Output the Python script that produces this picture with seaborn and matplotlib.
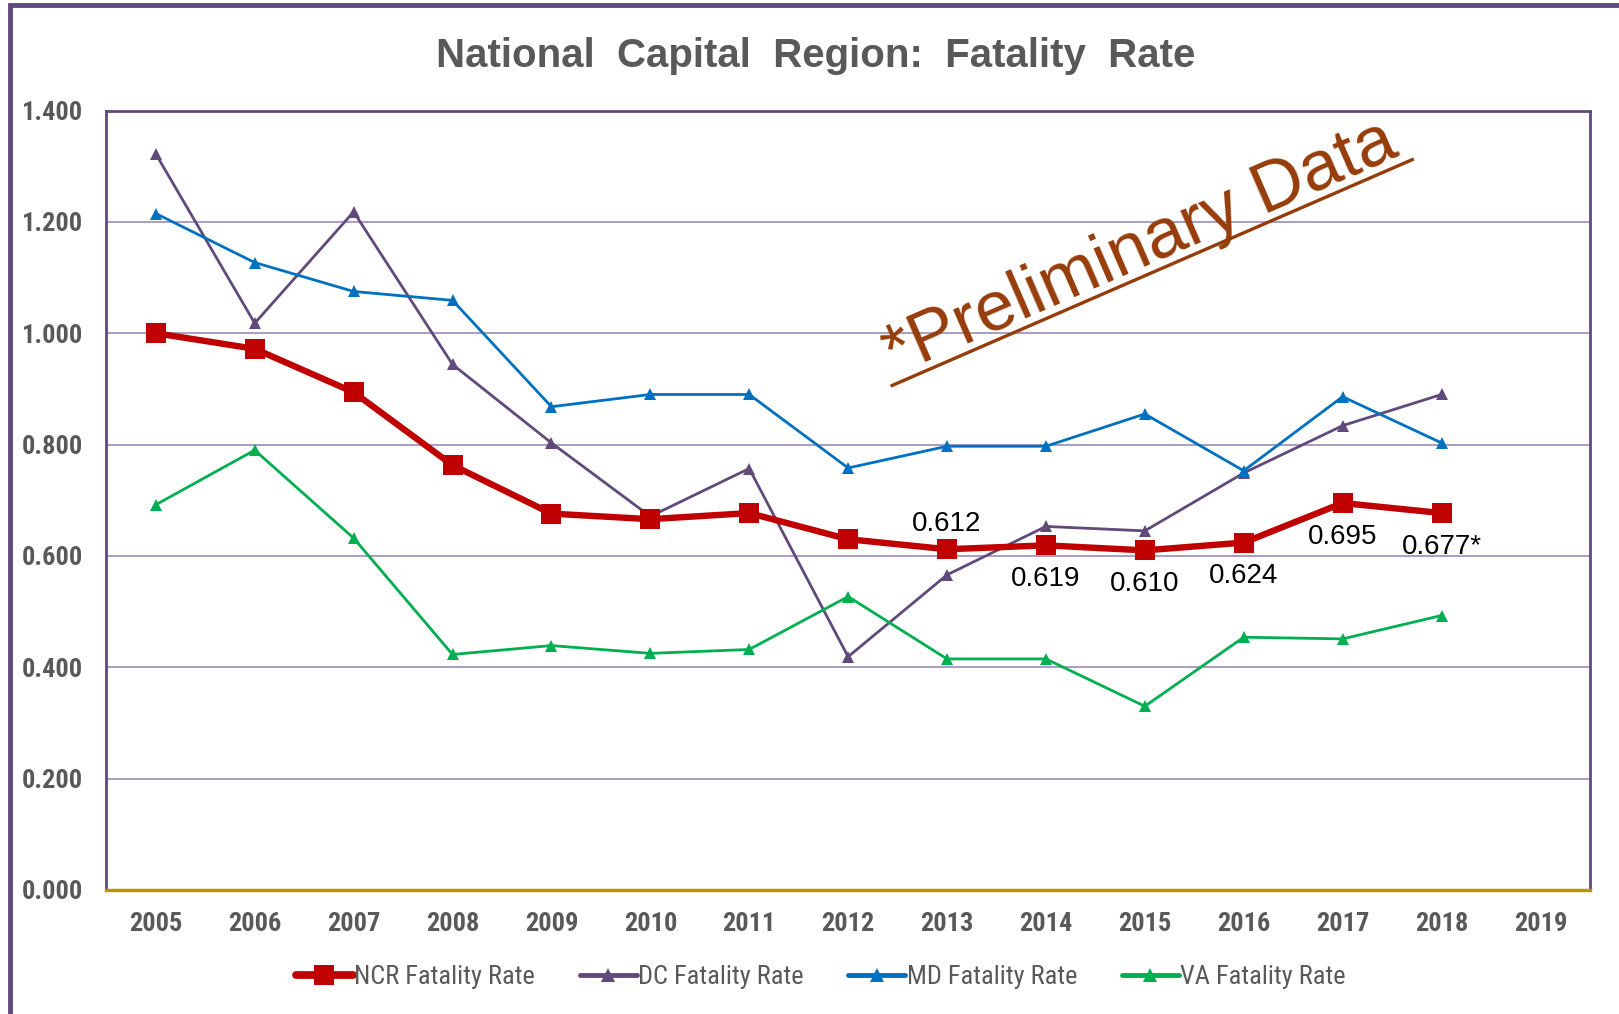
#!/usr/bin/env python3
"""National Capital Region fatality rate, 2005-2018, redrawn with seaborn."""

import matplotlib.pyplot as plt
import numpy as np
import pandas as pd
import seaborn as sns
from matplotlib.font_manager import fontManager
from matplotlib.lines import Line2D
from matplotlib.patches import Rectangle

years = ["2005", "2006", "2007", "2008", "2009", "2010", "2011", "2012",
         "2013", "2014", "2015", "2016", "2017", "2018", "2019"]

ncr_rate = [1.000, 0.972, 0.894, 0.763, 0.676, 0.666, 0.677, 0.630,
            0.612, 0.619, 0.610, 0.624, 0.695, 0.677]
dc_rate = [1.322, 1.018, 1.218, 0.944, 0.803, 0.671, 0.757, 0.419,
           0.566, 0.653, 0.645, 0.749, 0.834, 0.890]
md_rate = [1.215, 1.127, 1.075, 1.059, 0.868, 0.890, 0.890, 0.758,
           0.797, 0.797, 0.855, 0.753, 0.886, 0.803]
va_rate = [0.692, 0.790, 0.632, 0.423, 0.439, 0.425, 0.432, 0.527,
           0.415, 0.415, 0.330, 0.454, 0.451, 0.493]

# point labels on the NCR line (year, text, above?)
ncr_labels = [("2013", "0.612", True), ("2014", "0.619", False),
              ("2015", "0.610", False), ("2016", "0.624", False),
              ("2017", "0.695", False), ("2018", "0.677*", False)]

SERIES = [
    ("NCR Fatality Rate", ncr_rate, "#C00000", "s", 4.6, 15),
    ("DC Fatality Rate", dc_rate, "#604A7B", "^", 2.0, 8),
    ("MD Fatality Rate", md_rate, "#0070C0", "^", 2.0, 8),
    ("VA Fatality Rate", va_rate, "#00B050", "^", 2.0, 8),
]


def pick_narrow():
    """Find a narrow/condensed sans face; fall back to plain Liberation Sans."""
    names = {f.name for f in fontManager.ttflist}
    for fam in ("Liberation Sans Narrow", "Arial Narrow", "Roboto Condensed",
                "Open Sans Condensed", "DejaVu Sans Condensed", "Noto Sans Condensed"):
        if fam in names:
            return fam, "normal", True
    for f in fontManager.ttflist:
        st = str(f.stretch).lower()
        if "condensed" in st:
            return f.name, f.stretch, True
    return "Liberation Sans", "normal", False


sns.set_theme(style="white")
NARROW, STRETCH, HAVE_NARROW = pick_narrow()
plt.rcParams["font.family"] = ["Liberation Sans", "DejaVu Sans"]
TICK_SIZE = 19 if HAVE_NARROW else 16

GRAY = "#595959"
PURPLE = "#604A7B"
BROWN = "#963C0A"

fig = plt.figure(figsize=(16.19, 10.14), dpi=100)
ax = fig.add_axes([0.0657, 0.1223, 0.9163, 0.7687])

xpos = {y: i for i, y in enumerate(years)}
for name, vals, color, marker, lw, ms in SERIES:
    df = pd.DataFrame({"x": [xpos[y] for y in years[: len(vals)]], "rate": vals})
    sns.lineplot(data=df, x="x", y="rate", ax=ax, color=color, linewidth=lw,
                 marker=marker, markersize=ms, markeredgewidth=0,
                 zorder=5 if name.startswith("NCR") else 3, label=None)

for yr, txt, above in ncr_labels:
    v = ncr_rate[xpos[yr]]
    ax.annotate(txt, (xpos[yr], v), xytext=(0, 9 if above else -15),
                textcoords="offset points", ha="center",
                va="bottom" if above else "top", fontsize=20, color="black",
                zorder=6)

ax.set_xlim(-0.5, len(years) - 0.5)
ax.set_ylim(0, 1.4)
ax.set_xticks(range(len(years)))
ax.set_xticklabels(years)
ax.set_yticks(np.arange(0, 1.41, 0.2))
ax.set_yticklabels([f"{v:.3f}" for v in np.arange(0, 1.41, 0.2)])
ax.set_xlabel("")
ax.set_ylabel("")
for lab in ax.get_xticklabels() + ax.get_yticklabels():
    lab.set_fontfamily(NARROW)
    lab.set_fontstretch(STRETCH)
    lab.set_fontweight("bold")
    lab.set_fontsize(TICK_SIZE)
    lab.set_color(GRAY)
ax.tick_params(axis="x", length=0, pad=16)
ax.tick_params(axis="y", length=0, pad=17)

ax.grid(axis="y", color="#9B8DB8", linewidth=1.2)
ax.grid(axis="x", visible=False)
for side in ("top", "left", "right"):
    ax.spines[side].set_color(PURPLE)
    ax.spines[side].set_linewidth(2)
ax.spines["bottom"].set_color("#C09100")
ax.spines["bottom"].set_linewidth(2.5)
ax.spines["bottom"].set_zorder(6)

# watermark-style note
ax.text(7.47, 0.925, "*Preliminary Data", rotation=23.5, rotation_mode="anchor",
        ha="left", va="baseline", fontsize=51, color=BROWN, zorder=7)
ax.plot([7.43, 12.72], [0.905, 1.313], color=BROWN, linewidth=2.4, zorder=7,
        solid_capstyle="butt")

handles = [Line2D([], [], color=c, marker=m, linewidth=lw + (1 if m == "s" else 1.5),
                  markersize=ms * (0.95 if m == "s" else 1.2), markeredgewidth=0)
           for _, _, c, m, lw, ms in SERIES]
leg = fig.legend(handles, [s[0] for s in SERIES], loc="center",
                 bbox_to_anchor=(0.507, 0.036), ncol=4, frameon=False,
                 handlelength=2.15, handletextpad=0.05, columnspacing=1.7,
                 prop={"family": NARROW, "stretch": STRETCH, "size": TICK_SIZE})
for t in leg.get_texts():
    t.set_color(GRAY)

fig.text(0.504, 0.945, "National  Capital  Region:  Fatality  Rate", ha="center",
         va="center", fontsize=29, fontweight="bold", color=GRAY)

# outer chart frame (right/bottom edges fall outside the picture)
fig.patches.append(Rectangle((0.0062, -0.05), 1.1, 1.045, transform=fig.transFigure,
                             fill=False, edgecolor=PURPLE, linewidth=3.5,
                             clip_on=False))

fig.savefig("out.png", dpi=100)
